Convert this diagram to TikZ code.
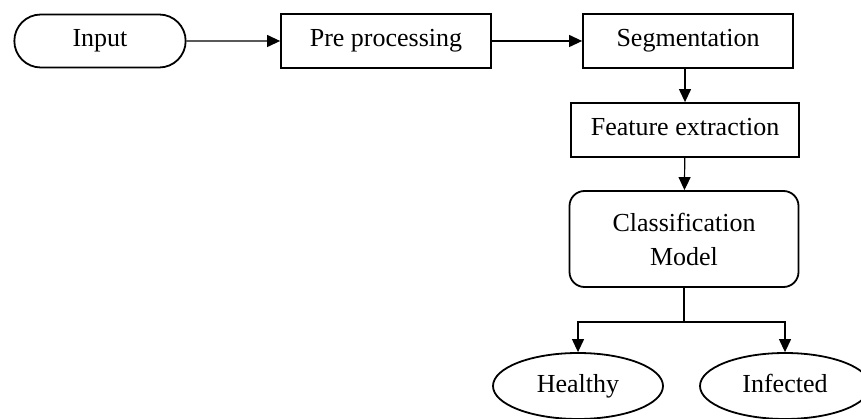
\documentclass[tikz,border=0pt]{standalone}
\usepackage{fontspec}
\setmainfont{Liberation Serif}
\usepackage{tikz}
\usetikzlibrary{positioning,arrows.meta,shapes.misc,shapes.geometric}

\tikzset{
  stadium/.style={draw, line width=1.8pt, rounded rectangle, minimum width=178pt, minimum height=53pt, text height=18pt, text depth=6pt},
  stepbox/.style={draw, line width=1.8pt, rectangle, minimum height=54pt, text height=18pt, text depth=6pt},
  modelbox/.style={draw, line width=1.8pt, rectangle, rounded corners=15pt, minimum width=229pt, minimum height=96pt, align=center},
  result/.style={draw, line width=1.8pt, ellipse, minimum width=170pt, minimum height=66pt, text height=18pt, text depth=6pt},
  flow/.style={-{Triangle[length=13pt,width=12pt]}, line width=1.2pt}
}

\begin{document}
\begin{tikzpicture}[x=1pt, y=-1pt, font=\fontsize{26}{34}\selectfont]

  \clip (0,0) rectangle (861,419);

  
  \node[stadium] (input) at (100,41) {Input};
  \node[stepbox, minimum width=210pt] (pre) at (386,41) {Pre processing};
  \node[stepbox, minimum width=210pt] (seg) at (688,41) {Segmentation};
  \node[stepbox, minimum width=228pt] (feat) at (685,130) {Feature extraction};
  \node[modelbox] (cls) at (684,239) {Classification\\Model};

  
  \node[result] (healthy) at (578,386) {Healthy};
  \node[result] (infected) at (785,386) {Infected};

  
  \draw[flow] (input) -- (pre);
  \draw[flow] (pre) -- (seg);
  \draw[flow] (feat.north |- seg.south) -- (feat.north);
  \draw[flow] (feat) -- (cls);

  
  \coordinate (split) at (684,322);
  \draw[line width=1.2pt] (cls.south) -- (split);
  \draw[flow] (split) -| (healthy);
  \draw[flow] (split) -| (infected);
\end{tikzpicture}
\end{document}
